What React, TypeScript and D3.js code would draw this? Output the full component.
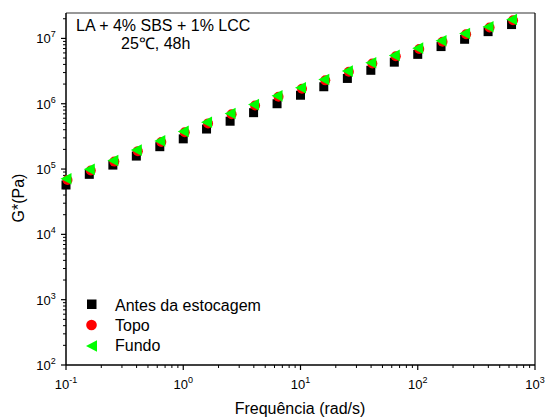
import React from "react";
import * as d3 from "d3";

const freq = [0.1, 0.158, 0.251, 0.398, 0.631, 1.0, 1.58, 2.51, 3.98, 6.31, 10, 15.8, 25.1, 39.8, 63.1, 100, 158, 251, 398, 631];
const antes = [5.7e4, 8.3e4, 1.15e5, 1.58e5, 2.2e5, 2.9e5, 4.1e5, 5.4e5, 7.3e5, 1.0e6, 1.35e6, 1.82e6, 2.44e6, 3.25e6, 4.33e6, 5.7e6, 7.5e6, 9.7e6, 1.27e7, 1.63e7];
const topo = [6.8e4, 9.5e4, 1.3e5, 1.88e5, 2.6e5, 3.65e5, 5.0e5, 6.9e5, 9.4e5, 1.28e6, 1.7e6, 2.28e6, 3.08e6, 4.12e6, 5.35e6, 6.9e6, 8.9e6, 1.16e7, 1.47e7, 1.9e7];
const fundo = [7.1e4, 9.9e4, 1.35e5, 1.95e5, 2.7e5, 3.77e5, 5.2e5, 7.1e5, 9.7e5, 1.32e6, 1.76e6, 2.35e6, 3.16e6, 4.25e6, 5.5e6, 7.1e6, 9.2e6, 1.19e7, 1.51e7, 1.95e7];
const xTickExps = [-1, 0, 1, 2, 3];
const yTickExps = [2, 3, 4, 5, 6, 7];
const legendLabels = ["Antes da estocagem", "Topo", "Fundo"];
const titleLines = ["LA + 4% SBS + 1% LCC", "25\u2103, 48h"];

const FONT = "Arial, 'Liberation Sans', sans-serif";

export default function App() {
  const W = 546, H = 419;
  const L = 66, R = 535, T = 13, B = 365;
  const x = d3.scaleLog().domain([0.1, 1000]).range([L, R]);
  const y = d3.scaleLog().domain([1e2, 2.45e7]).range([B, T]);

  const xMinor: number[] = [];
  for (let e = -1; e < 3; e++) for (let m = 2; m <= 9; m++) xMinor.push(m * Math.pow(10, e));
  const yMinor: number[] = [];
  for (let e = 2; e < 8; e++) for (let m = 2; m <= 9; m++) {
    const v = m * Math.pow(10, e);
    if (v <= 2.45e7) yMinor.push(v);
  }

  const tri = (cx: number, cy: number) =>
    `M${cx - 5.5},${cy} L${cx + 5.5},${cy - 5.8} L${cx + 5.5},${cy + 5.8} Z`;

  const red = "#ff0000";
  const green = "#00ff00";

  return (
    <svg width={W} height={H} style={{ position: "absolute", left: 0, top: 0 }} fontFamily={FONT}>
      <rect x={0} y={0} width={W} height={H} fill="#fff" />
      {/* frame */}
      <line x1={L} y1={T} x2={R} y2={T} stroke="#333" strokeWidth={1.2} />
      <line x1={R} y1={T} x2={R} y2={B} stroke="#000" strokeWidth={1.2} />
      <line x1={L} y1={T} x2={L} y2={B} stroke="#000" strokeWidth={1.5} />
      <line x1={L} y1={B} x2={R} y2={B} stroke="#000" strokeWidth={1.5} />

      {/* x ticks */}
      {xTickExps.map((e) => {
        const px = x(Math.pow(10, e));
        return (
          <g key={"xt" + e}>
            <line x1={px} y1={B} x2={px} y2={B + 5} stroke="#000" strokeWidth={1.2} />
            <text x={px} y={B + 24} fontSize={13} textAnchor="middle">
              10<tspan dy={-6} fontSize={9}>{e}</tspan>
            </text>
          </g>
        );
      })}
      {xMinor.map((v, i) => (
        <line key={"xm" + i} x1={x(v)} y1={B} x2={x(v)} y2={B + 3} stroke="#000" strokeWidth={1} />
      ))}

      {/* y ticks */}
      {yTickExps.map((e) => {
        const py = y(Math.pow(10, e));
        return (
          <g key={"yt" + e}>
            <line x1={L - 5} y1={py} x2={L} y2={py} stroke="#000" strokeWidth={1.2} />
            <text x={L - 20} y={py + 5} fontSize={13} textAnchor="middle">
              10<tspan dy={-6} fontSize={9}>{e}</tspan>
            </text>
          </g>
        );
      })}
      {yMinor.map((v, i) => (
        <line key={"ym" + i} x1={L - 3} y1={y(v)} x2={L} y2={y(v)} stroke="#000" strokeWidth={1} />
      ))}

      {/* data */}
      <g>
        {freq.map((f, i) => (
          <rect key={"a" + i} x={x(f) - 4.5} y={y(antes[i]) - 4.5} width={9} height={9} fill="#000" />
        ))}
        {freq.map((f, i) => (
          <circle key={"t" + i} cx={x(f) + 1.5} cy={y(topo[i])} r={5} fill={red} />
        ))}
        {freq.map((f, i) => (
          <path key={"f" + i} d={tri(x(f), y(fundo[i]))} fill={green} />
        ))}
      </g>

      {/* title */}
      <text x={76} y={30.5} fontSize={16}>{titleLines[0]}</text>
      <text x={121} y={48.5} fontSize={16}>{titleLines[1]}</text>

      {/* legend */}
      <rect x={87} y={299.5} width={9.5} height={9.5} fill="#000" />
      <text x={115} y={310.5} fontSize={16}>{legendLabels[0]}</text>
      <circle cx={91.5} cy={325} r={5.3} fill={red} />
      <text x={115} y={330.5} fontSize={16}>{legendLabels[1]}</text>
      <path d={tri(91.5, 346)} fill={green} />
      <text x={115} y={350.5} fontSize={16}>{legendLabels[2]}</text>

      {/* axis labels */}
      <text x={300} y={414} fontSize={16} textAnchor="middle">Frequência (rad/s)</text>
      <text transform={`translate(24,198) rotate(-90)`} fontSize={16} textAnchor="middle">G*(Pa)</text>
    </svg>
  );
}
